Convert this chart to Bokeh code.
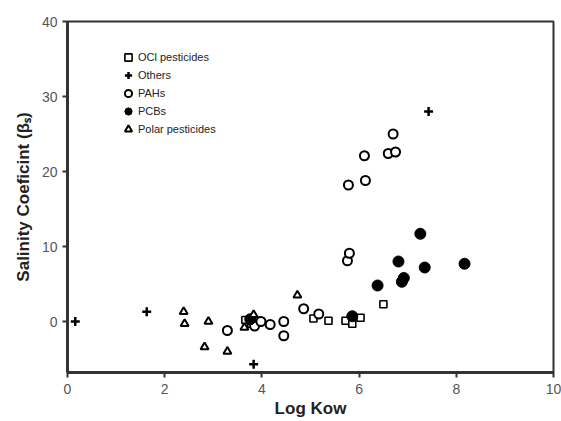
from bokeh.plotting import figure
from bokeh.models import Legend, LegendItem, FixedTicker, Range1d
from bokeh.embed import file_html
from bokeh.resources import INLINE

# Data
ocl_x = [3.66, 3.78, 3.92, 5.06, 5.37, 5.72, 5.86, 6.03, 6.5]
ocl_y = [0.2, -0.3, 0.1, 0.4, 0.1, 0.1, -0.3, 0.5, 2.3]

oth_x = [0.16, 1.63, 3.83, 7.43]
oth_y = [0.0, 1.3, -5.7, 28.0]

pah_x = [3.29, 3.85, 3.98, 4.17, 4.45, 4.45, 4.86, 5.17, 5.76, 5.80, 5.78, 6.13, 6.11, 6.60, 6.75, 6.70]
pah_y = [-1.2, -0.6, 0.0, -0.4, 0.0, -1.9, 1.7, 1.0, 8.1, 9.1, 18.2, 18.8, 22.1, 22.4, 22.6, 25.0]

pcb_x = [3.76, 5.86, 6.38, 6.88, 6.92, 6.81, 7.26, 7.35, 8.17]
pcb_y = [0.3, 0.7, 4.8, 5.3, 5.8, 8.0, 11.7, 7.2, 7.7]

pol_x = [2.39, 2.41, 2.82, 2.90, 3.29, 3.64, 3.83, 4.73]
pol_y = [1.3, -0.3, -3.4, 0.0, -4.0, -0.8, 0.9, 3.5]

x_ticks = [0, 2, 4, 6, 8, 10]
y_ticks = [0, 10, 20, 30, 40]

labels = ["OCl pesticides", "Others", "PAHs", "PCBs", "Polar pesticides"]

p = figure(width=561, height=421, output_backend="svg", toolbar_location=None,
           x_range=Range1d(0, 10), y_range=Range1d(-6.8, 40),
           min_border_left=67, min_border_right=8, min_border_top=21, min_border_bottom=49)
p.grid.visible = False
p.background_fill_color = "white"
p.border_fill_color = "white"
p.outline_line_color = "#333333"
p.outline_line_width = 2

r_ocl = p.scatter(ocl_x, ocl_y, marker="square", size=7, fill_color="white",
                  line_color="black", line_width=1.6)
r_oth = p.scatter(oth_x, oth_y, marker="cross", size=9, line_color="black", line_width=2.5)
r_pah = p.scatter(pah_x, pah_y, marker="circle", size=9, fill_color="white",
                  line_color="black", line_width=2)
r_pcb = p.scatter(pcb_x, pcb_y, marker="circle", size=11, fill_color="black",
                  line_color="black")
r_pol = p.scatter(pol_x, pol_y, marker="triangle", size=8, fill_color="white",
                  line_color="black", line_width=2)

for ax in (p.xaxis[0], p.yaxis[0]):
    ax.axis_line_width = 3
    ax.axis_line_color = "#333333"
    ax.major_tick_line_width = 2
    ax.major_tick_line_color = "#333333"
    ax.major_tick_out = 5
    ax.major_tick_in = 0
    ax.minor_tick_line_color = None
    ax.major_label_text_font = "Liberation Sans"
    ax.major_label_text_font_size = "14px"
    ax.major_label_text_color = "#555555"
    ax.axis_label_text_font = "Liberation Sans"
    ax.axis_label_text_font_style = "bold"
    ax.axis_label_text_font_size = "17px"
    ax.axis_label_text_color = "#222222"

p.xaxis.ticker = FixedTicker(ticks=x_ticks)
p.yaxis.ticker = FixedTicker(ticks=y_ticks)
p.xaxis.axis_label = "Log Kow"
p.yaxis.axis_label = "Salinity Coeficint (βₛ)"
p.xaxis.major_label_standoff = 6
p.yaxis.major_label_standoff = 5
p.xaxis.axis_label_standoff = 2
p.yaxis.axis_label_standoff = 6

legend = Legend(items=[LegendItem(label=l, renderers=[r]) for l, r in
                       zip(labels, [r_ocl, r_oth, r_pah, r_pcb, r_pol])],
                location=(51, 234))
legend.border_line_color = None
legend.background_fill_alpha = 0
legend.label_text_font = "Liberation Sans"
legend.label_text_font_size = "11px"
legend.label_text_color = "#222222"
legend.glyph_width = 20
legend.glyph_height = 18
legend.label_height = 14
legend.spacing = 0
legend.padding = 0
legend.margin = 0
legend.label_standoff = 0
p.add_layout(legend, "center")

open("out.html", "w").write(file_html(p, INLINE))
